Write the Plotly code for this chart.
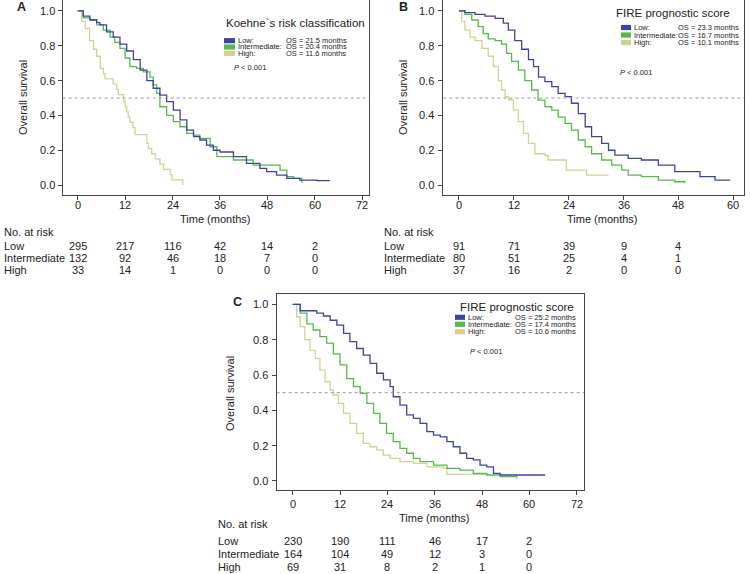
import plotly.graph_objects as go

W, H = 750, 574

# ---------------- data ----------------
groups = ["Low", "Intermediate", "High"]
colors = {"Low": "#3d43a3", "Intermediate": "#58b94a", "High": "#d3d18f"}

# Panel A - Koehne's risk classification
A_low_t = [0, 1.4, 3.1, 4.8, 5.6, 7.3, 9.0, 10.7, 12.4, 14.1, 15.8, 17.5, 19.1, 20.8, 22.5, 24.2, 25.9, 27.6, 29.3, 30.9, 32.6, 34.3, 36.0, 39.4, 42.7, 46.1, 47.8, 50.3, 52.9, 56.2, 60.5, 63.8]
A_low_s = [1.0, 0.97, 0.948, 0.933, 0.92, 0.88, 0.85, 0.81, 0.77, 0.72, 0.66, 0.60, 0.556, 0.517, 0.479, 0.43, 0.374, 0.316, 0.278, 0.259, 0.23, 0.20, 0.19, 0.163, 0.125, 0.096, 0.077, 0.057, 0.038, 0.029, 0.025, 0.025]
A_int_t = [0, 1.4, 3.1, 4.8, 6.5, 8.2, 9.4, 10.7, 12.0, 13.2, 14.9, 16.6, 18.3, 19.1, 20.0, 20.8, 22.5, 24.2, 25.9, 27.6, 29.3, 30.9, 33.5, 35.2, 37.7, 39.4, 44.4, 47.8, 51.2, 52.9, 54.6, 56.7]
A_int_s = [1.0, 0.96, 0.95, 0.92, 0.89, 0.85, 0.82, 0.785, 0.73, 0.68, 0.67, 0.65, 0.62, 0.575, 0.527, 0.45, 0.40, 0.364, 0.335, 0.297, 0.287, 0.268, 0.22, 0.163, 0.163, 0.144, 0.115, 0.115, 0.086, 0.048, 0.038, 0.013]
A_high_t = [0, 1.0, 1.9, 3.0, 4.0, 4.8, 5.7, 6.5, 6.9, 9.0, 9.9, 10.3, 11.6, 12.0, 12.4, 12.8, 13.2, 14.0, 14.5, 17.5, 17.9, 18.7, 19.6, 20.8, 21.7, 23.4, 23.8, 26.6]
A_high_s = [1.0, 0.94, 0.90, 0.83, 0.78, 0.74, 0.67, 0.64, 0.61, 0.58, 0.55, 0.52, 0.48, 0.45, 0.42, 0.39, 0.36, 0.33, 0.29, 0.24, 0.21, 0.18, 0.15, 0.12, 0.09, 0.06, 0.03, 0.0]

# Panel B - FIRE prognostic score
B_low_t = [0, 1.3, 3.5, 5.7, 7.9, 9.7, 10.8, 12.2, 13.7, 15.2, 16.3, 17.4, 18.8, 20.3, 21.7, 23.2, 24.6, 26.1, 27.6, 29.0, 31.2, 32.7, 34.1, 37.0, 39.9, 43.6, 47.2, 52.7, 56.0, 59.3]
B_low_s = [1.0, 0.99, 0.98, 0.97, 0.958, 0.93, 0.89, 0.83, 0.78, 0.72, 0.68, 0.62, 0.594, 0.565, 0.527, 0.508, 0.47, 0.41, 0.335, 0.278, 0.24, 0.20, 0.172, 0.153, 0.144, 0.115, 0.077, 0.048, 0.029, 0.029]
B_int_t = [0, 1.3, 2.8, 4.2, 5.3, 6.4, 7.9, 9.3, 10.4, 11.5, 13.0, 14.4, 15.9, 17.3, 18.8, 20.3, 21.7, 23.2, 24.6, 26.1, 27.6, 29.0, 31.2, 33.4, 35.6, 37.0, 39.9, 43.6, 47.2, 49.4]
B_int_s = [1.0, 0.98, 0.948, 0.91, 0.87, 0.84, 0.83, 0.81, 0.757, 0.71, 0.66, 0.60, 0.546, 0.488, 0.45, 0.43, 0.39, 0.354, 0.316, 0.259, 0.22, 0.18, 0.144, 0.115, 0.086, 0.057, 0.048, 0.029, 0.019, 0.01]
B_high_t = [0, 0.6, 1.3, 2.4, 3.5, 5.0, 6.4, 7.5, 8.6, 9.3, 10.1, 10.8, 11.9, 13.0, 14.1, 15.2, 16.6, 18.8, 19.5, 23.5, 27.9, 32.7]
B_high_s = [1.0, 0.94, 0.89, 0.85, 0.83, 0.785, 0.74, 0.68, 0.60, 0.546, 0.508, 0.49, 0.43, 0.364, 0.297, 0.24, 0.18, 0.17, 0.144, 0.086, 0.057, 0.057]

# Panel C - FIRE prognostic score
C_low_t = [0, 1.9, 4.4, 6.1, 7.8, 9.5, 11.2, 12.9, 14.5, 16.2, 17.9, 19.6, 21.3, 23.0, 24.7, 25.5, 27.2, 28.9, 30.6, 32.3, 34.0, 35.7, 37.4, 39.1, 40.7, 42.4, 44.1, 45.8, 47.5, 49.2, 50.9, 52.6, 64.0]
C_low_s = [1.0, 0.964, 0.964, 0.95, 0.934, 0.91, 0.883, 0.836, 0.789, 0.75, 0.713, 0.666, 0.61, 0.572, 0.534, 0.477, 0.43, 0.374, 0.355, 0.326, 0.28, 0.26, 0.25, 0.223, 0.194, 0.157, 0.128, 0.119, 0.09, 0.08, 0.043, 0.034, 0.034]
C_int_t = [0, 1.9, 3.6, 5.2, 6.9, 8.6, 10.3, 12.0, 13.7, 15.4, 17.1, 18.8, 20.5, 22.1, 23.8, 25.5, 27.2, 28.9, 30.6, 32.3, 35.7, 39.1, 42.4, 45.8, 49.2, 52.6, 56.8]
C_int_s = [1.0, 0.95, 0.89, 0.855, 0.817, 0.78, 0.72, 0.657, 0.58, 0.534, 0.496, 0.44, 0.383, 0.326, 0.27, 0.223, 0.185, 0.157, 0.128, 0.11, 0.09, 0.072, 0.062, 0.043, 0.034, 0.025, 0.015]
C_high_t = [0, 1.0, 1.9, 3.1, 4.4, 5.7, 6.9, 8.2, 9.5, 10.3, 11.6, 12.9, 14.5, 16.2, 17.9, 19.6, 21.3, 23.0, 24.7, 27.2, 30.6, 34.0, 38.2, 39.1, 50.0]
C_high_s = [1.0, 0.93, 0.874, 0.80, 0.74, 0.694, 0.628, 0.562, 0.515, 0.487, 0.44, 0.383, 0.326, 0.27, 0.213, 0.194, 0.175, 0.147, 0.128, 0.11, 0.10, 0.08, 0.072, 0.038, 0.038]

# legends
A_title = "Koehne`s risk classification"
B_title = "FIRE prognostic score"
C_title = "FIRE prognostic score"
A_os = ["OS = 21.5 months", "OS = 20.4 months", "OS = 11.6 months"]
B_os = ["OS = 23.3 months", "OS = 16.7 months", "OS = 10.1 months"]
C_os = ["OS = 25.2 months", "OS = 17.4 months", "OS = 10.6 months"]
p_text = "<i>P</i> < 0.001"

# number at risk
A_risk_times = [0, 12, 24, 36, 48, 60]
A_risk = {"Low": [295, 217, 116, 42, 14, 2], "Intermediate": [132, 92, 46, 18, 7, 0], "High": [33, 14, 1, 0, 0, 0]}
B_risk_times = [0, 12, 24, 36, 48]
B_risk = {"Low": [91, 71, 39, 9, 4], "Intermediate": [80, 51, 25, 4, 1], "High": [37, 16, 2, 0, 0]}
C_risk_times = [0, 12, 24, 36, 48, 60]
C_risk = {"Low": [230, 190, 111, 46, 17, 2], "Intermediate": [164, 104, 49, 12, 3, 0], "High": [69, 31, 8, 2, 1, 0]}

A_ticks = [0, 12, 24, 36, 48, 60, 72]
B_ticks = [0, 12, 24, 36, 48, 60]
C_ticks = [0, 12, 24, 36, 48, 60, 72]
y_ticks = [0.0, 0.2, 0.4, 0.6, 0.8, 1.0]

# ---------------- helpers ----------------
def X(px):
    return px / W

def Y(py):
    return 1 - py / H

FONT = "Liberation Sans, Arial, sans-serif"
TXT = "#222222"

fig = go.Figure()

panels = [
    dict(ax="", data={"Low": (A_low_t, A_low_s), "Intermediate": (A_int_t, A_int_s), "High": (A_high_t, A_high_s)},
         xdom=[X(62.7), X(369.3)], ydom=[Y(195), Y(0)], xr=[-3.79, 73.77], yr=[-0.057, 1.063], ticks=A_ticks,
         xlab_y=205, ylab_x=57),
    dict(ax="2", data={"Low": (B_low_t, B_low_s), "Intermediate": (B_int_t, B_int_s), "High": (B_high_t, B_high_s)},
         xdom=[X(443.3), X(744.3)], ydom=[Y(195), Y(0)], xr=[-3.43, 62.4], yr=[-0.057, 1.063], ticks=B_ticks,
         xlab_y=205, ylab_x=436),
    dict(ax="3", data={"Low": (C_low_t, C_low_s), "Intermediate": (C_int_t, C_int_s), "High": (C_high_t, C_high_s)},
         xdom=[X(276.7), X(584)], ydom=[Y(490), Y(294.3)], xr=[-4.06, 73.86], yr=[-0.051, 1.057], ticks=C_ticks,
         xlab_y=504, ylab_x=270),
]

layout = dict(width=W, height=H, margin=dict(l=0, r=0, t=0, b=0), paper_bgcolor="white",
              plot_bgcolor="white", showlegend=False, font=dict(family=FONT, color=TXT))

shapes = []
annotations = []

def text(px, py, s, size=11, xanchor="left", yanchor="middle", **kw):
    annotations.append(dict(x=X(px), y=Y(py), xref="paper", yref="paper", text=s, showarrow=False,
                            xanchor=xanchor, yanchor=yanchor, font=dict(size=size, color=TXT, family=FONT), **kw))

for p in panels:
    a = p["ax"]
    for g in ["High", "Intermediate", "Low"]:
        t, s = p["data"][g]
        fig.add_trace(go.Scatter(x=t, y=s, mode="lines", line=dict(color=colors[g], width=1.3, shape="hv"),
                                 xaxis="x" + a, yaxis="y" + a, hoverinfo="skip"))
    layout["xaxis" + a] = dict(domain=p["xdom"], range=p["xr"], anchor="y" + a, tickvals=p["ticks"],
                               showticklabels=False,
                               showline=True, linecolor="#444", linewidth=1, mirror=True, ticks="outside",
                               ticklen=4, tickcolor="#444", showgrid=False, zeroline=False)
    layout["yaxis" + a] = dict(domain=p["ydom"], range=p["yr"], anchor="x" + a, tickvals=y_ticks,
                               showticklabels=False, showline=True, linecolor="#444", linewidth=1, mirror=True,
                               ticks="outside", ticklen=4, tickcolor="#444", showgrid=False, zeroline=False)
    shapes.append(dict(type="line", xref="x" + a + " domain", yref="y" + a, x0=0, x1=1, y0=0.5, y1=0.5,
                       line=dict(color="#999999", width=1, dash="dot")))
    # tick labels
    for tv in p["ticks"]:
        annotations.append(dict(x=tv, y=Y(p["xlab_y"]), xref="x" + a, yref="paper", text=str(tv), showarrow=False,
                                xanchor="center", yanchor="middle", font=dict(size=11, color=TXT, family=FONT)))
    for yv in y_ticks:
        annotations.append(dict(x=X(p["ylab_x"]), y=yv, xref="paper", yref="y" + a, text=f"{yv:.1f}",
                                showarrow=False, xanchor="right", yanchor="middle",
                                font=dict(size=11, color=TXT, family=FONT)))

# panel letters
text(21.5, 7, "<b>A</b>", size=12.5, xanchor="center")
text(403, 7, "<b>B</b>", size=12.5, xanchor="center")
text(237, 302, "<b>C</b>", size=12.5, xanchor="center")

# axis titles
text(23, 98, "Overall survival", size=11, xanchor="center", textangle=-90)
text(403, 98, "Overall survival", size=11, xanchor="center", textangle=-90)
text(230, 393, "Overall survival", size=11, xanchor="center", textangle=-90)
text(215, 219, "Time (months)", size=11, xanchor="center")
text(602, 219, "Time (months)", size=11, xanchor="center")
text(435, 518, "Time (months)", size=11, xanchor="center")

# legends
def legend(title, tx, ty, sx0, sx1, rows, lab_x, os_x, os_list, px_, py_):
    text(tx, ty, title, size=11.5, xanchor="center")
    for g, ry, os in zip(groups, rows, os_list):
        shapes.append(dict(type="rect", xref="paper", yref="paper", x0=X(sx0), x1=X(sx1), y0=Y(ry + 2.6), y1=Y(ry - 2.6),
                           fillcolor=colors[g], line=dict(width=0)))
        text(lab_x, ry, g + ":", size=7.5)
        text(os_x, ry, os, size=7.5)
    text(px_, py_, p_text, size=7.5)

legend(A_title, 295, 23, 224, 235, [40.7, 47.0, 53.3], 236, 283.5, A_os, 232, 67)
legend(B_title, 673, 13, 621, 631, [27.5, 35.0, 42.5], 632, 675.5, B_os, 618, 73)
legend(C_title, 517, 307, 455, 465, [317.3, 324.3, 331.7], 466, 513, C_os, 468, 351)

# number at risk tables
def risk_table(xa, left, y_head, y_rows, times, table):
    text(left, y_head, "No. at risk", size=11)
    for g, ry in zip(groups, y_rows):
        text(left, ry, g, size=11)
        for t, v in zip(times, table[g]):
            annotations.append(dict(x=t, y=Y(ry), xref=xa, yref="paper", text=str(v), showarrow=False,
                                    xanchor="center", yanchor="middle", font=dict(size=11, color=TXT, family=FONT)))

risk_table("x", 2, 232, [246, 258, 270], A_risk_times, A_risk)
risk_table("x2", 382, 232, [246, 258, 270], B_risk_times, B_risk)
risk_table("x3", 216, 524, [541, 554, 567], C_risk_times, C_risk)

layout["shapes"] = shapes
layout["annotations"] = annotations
fig.update_layout(**layout)
fig.write_html("out.html", config={"displayModeBar": False},
               post_script="document.body.style.margin='0';document.body.style.overflow='hidden';")
